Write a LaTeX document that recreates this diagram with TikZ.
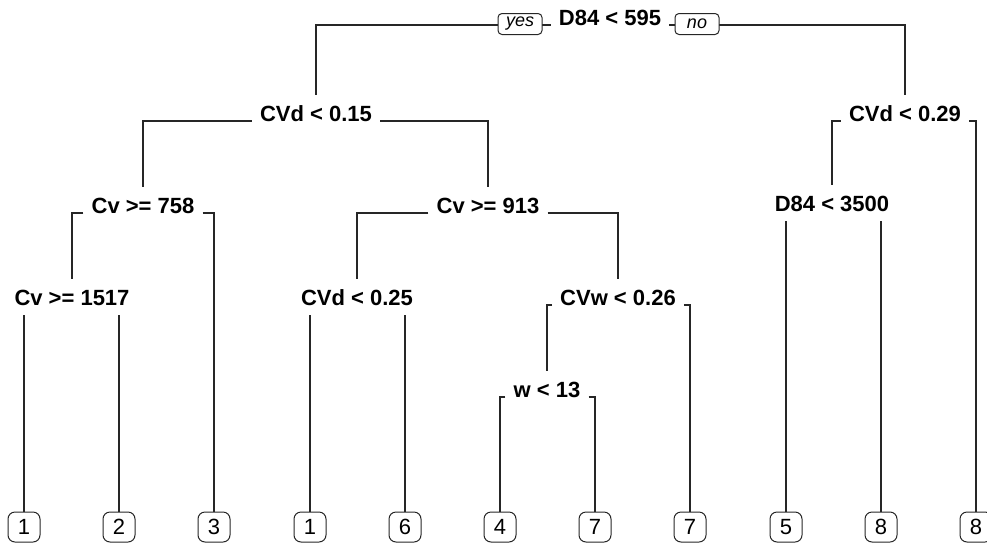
\documentclass[tikz,border=0pt]{standalone}
\usepackage{fontspec}
\setmainfont{Liberation Sans}
\usetikzlibrary{positioning}

\begin{document}
\begin{tikzpicture}[
    x=1pt, y=-1pt,
    split/.style={anchor=base, inner xsep=8pt, inner ysep=10pt, font=\fontsize{22}{26}\selectfont\bfseries},
    leaf/.style={draw=black!85, line width=1pt, rounded corners=7pt, minimum width=32pt, minimum height=30pt, inner sep=0pt, font=\fontsize{22}{26}\selectfont},
    yesno/.style={draw=black!85, line width=1pt, fill=white, rounded corners=4pt, minimum width=44pt, minimum height=21pt, inner sep=0pt, font=\fontsize{18}{21}\selectfont\itshape},
    branch/.style={line width=1.1pt, black!85}
]
\useasboundingbox (0,0) rectangle (987,544);

% Root
\node[split] (root) at (610,25) {D84 < 595};

% First level
\node[split] (n1) at (316,121) {CVd < 0.15};
\node[split] (n2) at (905,121) {CVd < 0.29};

% Second level
\node[split] (n3) at (143,213) {Cv >= 758};
\node[split] (n4) at (488,213) {Cv >= 913};
\node[split] (n5) at (832,211) {D84 < 3500};

% Third level
\node[split] (n6) at (72,305) {Cv >= 1517};
\node[split] (n7) at (357,305) {CVd < 0.25};
\node[split] (n8) at (618,305) {CVw < 0.26};

% Fourth level
\node[split] (n9) at (547,397) {w < 13};

% Leaves
\node[leaf] (l1) at (24,527) {1};
\node[leaf] (l2) at (119,527) {2};
\node[leaf] (l3) at (214,527) {3};
\node[leaf] (l4) at (310,527) {1};
\node[leaf] (l5) at (405,527) {6};
\node[leaf] (l6) at (500,527) {4};
\node[leaf] (l7) at (595,527) {7};
\node[leaf] (l8) at (690,527) {7};
\node[leaf] (l9) at (786,527) {5};
\node[leaf] (l10) at (881,527) {8};
\node[leaf] (l11) at (976,527) {8};

\draw[branch] (root.base west) -| (n1.north);
\draw[branch] (root.base east) -| (n2.north);
\draw[branch] (n1.base west) -| (n3.north);
\draw[branch] (n1.base east) -| (n4.north);
\draw[branch] (n2.base west) -| (n5.north);
\draw[branch] (n2.base east) -| (l11.north);
\draw[branch] (n3.base west) -| (n6.north);
\draw[branch] (n3.base east) -| (l3.north);
\draw[branch] (n4.base west) -| (n7.north);
\draw[branch] (n4.base east) -| (n8.north);
\draw[branch] (l9.north) -- (l9.north |- n5.south);
\draw[branch] (l10.north) -- (l10.north |- n5.south);
\draw[branch] (l1.north) -- (l1.north |- n6.south);
\draw[branch] (l2.north) -- (l2.north |- n6.south);
\draw[branch] (l4.north) -- (l4.north |- n7.south);
\draw[branch] (l5.north) -- (l5.north |- n7.south);
\draw[branch] (n8.base west) -| (n9.north);
\draw[branch] (n8.base east) -| (l8.north);
\draw[branch] (n9.base west) -| (l6.north);
\draw[branch] (n9.base east) -| (l7.north);

% yes / no labels on the root line
\node[yesno] (yes) at (520,24) {yes};
\node[yesno] (no) at (697,24) {no};
\end{tikzpicture}
\end{document}
